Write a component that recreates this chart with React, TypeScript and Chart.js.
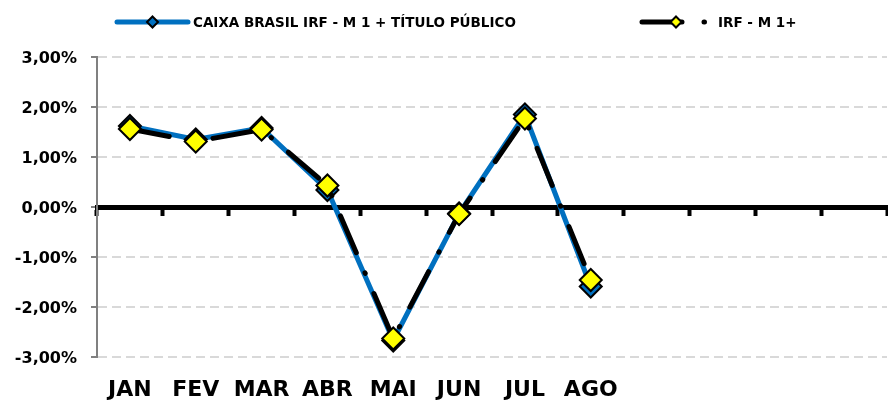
import React, { useEffect, useRef } from "react";
import { Chart, registerables } from "chart.js";

Chart.register(...registerables);

// Categories (12 monthly slots, only JAN..AGO labelled)
const MONTHS = ["JAN", "FEV", "MAR", "ABR", "MAI", "JUN", "JUL", "AGO", "", "", "", ""];
// Series values (% per month)
const CAIXA = [1.62, 1.35, 1.58, 0.34, -2.67, -0.13, 1.85, -1.59];
const IRF = [1.56, 1.31, 1.55, 0.43, -2.63, -0.14, 1.77, -1.46];
const SERIES_NAMES = ["CAIXA BRASIL IRF - M 1 + TÍTULO PÚBLICO", "IRF - M 1+"];
// Y axis
const Y_MIN = -3;
const Y_MAX = 3;
const Y_STEP = 1;

const BLUE = "#0070C0";
const YELLOW = "#FFFF00";
const DASH_DOT = [40, 22, 0.5, 22];
const FONT = '"DejaVu Sans", sans-serif';

const legendPlugin = {
  id: "excelLegend",
  afterDraw(chart: any) {
    const ctx = chart.ctx as CanvasRenderingContext2D;
    const y = 22;
    const items = [
      { x0: 117, x1: 188, tx: 193, color: BLUE, fill: BLUE, dash: [] as number[] },
      { x0: 642, x1: 712, tx: 718, color: "#000", fill: YELLOW, dash: DASH_DOT },
    ];
    items.forEach((it, i) => {
      ctx.save();
      ctx.strokeStyle = it.color;
      ctx.lineWidth = 5;
      ctx.lineCap = "round";
      ctx.setLineDash(it.dash);
      ctx.beginPath();
      ctx.moveTo(it.x0, y);
      ctx.lineTo(it.x1, y);
      ctx.stroke();
      ctx.setLineDash([]);
      const cx = i === 0 ? (it.x0 + it.x1) / 2 : 676;
      const r = 5.5;
      ctx.beginPath();
      ctx.moveTo(cx, y - r);
      ctx.lineTo(cx + r, y);
      ctx.lineTo(cx, y + r);
      ctx.lineTo(cx - r, y);
      ctx.closePath();
      ctx.fillStyle = it.fill;
      ctx.fill();
      ctx.lineWidth = 2;
      ctx.strokeStyle = "#000";
      ctx.stroke();
      ctx.fillStyle = "#000";
      ctx.font = `bold 13.5px ${FONT}`;
      ctx.textBaseline = "middle";
      ctx.textAlign = "left";
      ctx.fillText(chart.data.datasets[i].label, it.tx, y + 1);
      ctx.restore();
    });
  },
};

export default function App() {
  const ref = useRef<HTMLCanvasElement | null>(null);

  useEffect(() => {
    if (!ref.current) return;
    Chart.defaults.color = "#000";
    const chart = new Chart(ref.current, {
      type: "line",
      data: {
        labels: MONTHS,
        datasets: [
          {
            label: SERIES_NAMES[0],
            data: CAIXA,
            borderColor: BLUE,
            borderWidth: 5,
            pointStyle: "rectRot",
            pointRadius: 11,
            pointHoverRadius: 11,
            pointBackgroundColor: BLUE,
            pointBorderColor: "#000",
            pointBorderWidth: 2,
            tension: 0,
            order: 2,
            xAxisID: "x",
          },
          {
            label: SERIES_NAMES[1],
            data: IRF,
            borderColor: "#000",
            borderWidth: 5,
            borderDash: DASH_DOT,
            borderCapStyle: "round",
            pointStyle: "rectRot",
            pointRadius: 11,
            pointHoverRadius: 11,
            pointBackgroundColor: YELLOW,
            pointBorderColor: "#000",
            pointBorderWidth: 2,
            tension: 0,
            order: 1,
            xAxisID: "x",
          },
        ],
      },
      options: {
        responsive: false,
        animation: false,
        devicePixelRatio: 1,
        layout: { padding: { top: 57, left: 0, right: 9, bottom: 0 } },
        plugins: { legend: { display: false }, tooltip: { enabled: false } },
        scales: {
          x: {
            type: "category",
            position: "bottom",
            offset: true,
            grid: { display: false, drawTicks: true, tickLength: 20 },
            border: { display: false },
            ticks: {
              padding: 0,
              autoSkip: false,
              maxRotation: 0,
              color: "#000",
              font: { family: FONT, size: 22, weight: "bold" },
            },
            afterFit: (s: any) => {
              s.height = 45;
            },
          },
          x2: {
            type: "category",
            labels: MONTHS,
            position: { y: 0 },
            offset: true,
            grid: {
              display: true,
              offset: true,
              drawOnChartArea: false,
              drawTicks: true,
              tickLength: 6,
              tickWidth: 4,
              tickColor: "#000",
            },
            border: { display: true, color: "#000", width: 5 },
            ticks: { display: false },
          },
          y: {
            type: "linear",
            min: Y_MIN,
            max: Y_MAX,
            ticks: {
              stepSize: Y_STEP,
              padding: 14,
              labelOffset: 2,
              color: "#000",
              font: { family: FONT, size: 16, weight: "bold" },
              callback: (v: any) => Number(v).toFixed(2).replace(".", ",") + "%",
            },
            grid: {
              color: "#D9D9D9",
              lineWidth: 2,
              tickColor: "#808080",
              tickLength: 6,
              tickWidth: 2,
              tickBorderDash: [1, 0],
            },
            border: { display: true, color: "#808080", width: 2, dash: [9, 5] },
            afterFit: (s: any) => {
              s.width = 97;
            },
          },
        },
      },
      plugins: [legendPlugin],
    });
    return () => chart.destroy();
  }, []);

  return (
    <div
      style={{
        position: "fixed",
        left: 0,
        top: 0,
        width: 888,
        height: 402,
        overflow: "hidden",
        background: "#fff",
      }}
    >
      <canvas ref={ref} width={900} height={402} style={{ display: "block" }} />
    </div>
  );
}
